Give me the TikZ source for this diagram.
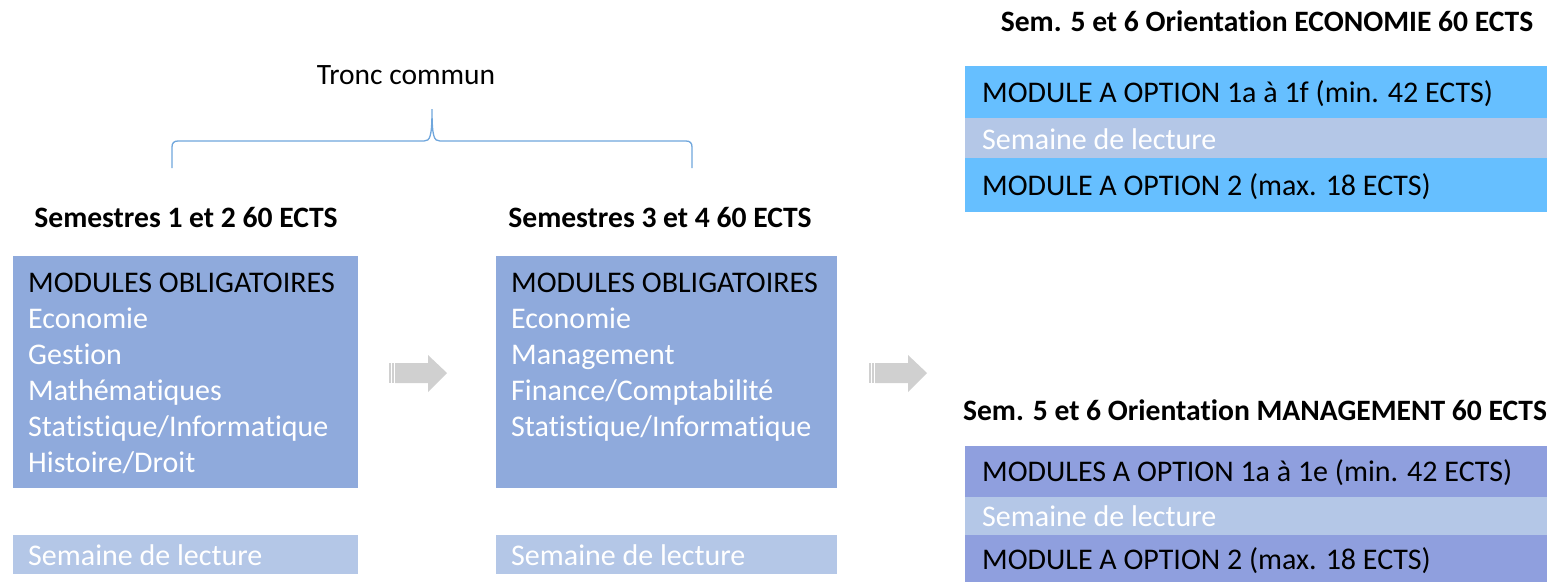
\documentclass[tikz,border=0pt]{standalone}
\usepackage{fontspec}
\setmainfont[Ligatures={NoCommon}]{Carlito}
\definecolor{mainbox}{HTML}{8FAADC}
\definecolor{weekbox}{HTML}{B4C7E7}
\definecolor{ecobox}{HTML}{66BFFF}
\definecolor{mgtbox}{HTML}{8F9FDE}
\definecolor{bracecol}{HTML}{6FA6DC}
\definecolor{arrowcol}{HTML}{D0D0D0}
\tikzset{
  panel/.style={anchor=north west, inner sep=0pt, outer sep=0pt},
  txt/.style={anchor=base west, inner sep=0pt, font=\fontsize{30}{36}\selectfont},
  whitetxt/.style={txt, text=white},
  ttl/.style={anchor=base, inner sep=0pt, font=\fontsize{29.6}{36}\selectfont\bfseries},
  blockarrow/.style={fill=arrowcol, draw=none},
}
\begin{document}
\begin{tikzpicture}[x=1pt,y=-1pt]
\useasboundingbox (0,0) rectangle (1553,582);
% brace and label
\node[anchor=base, inner sep=0pt, font=\fontsize{29.5}{36}\selectfont] (tc) at (406,84) {Tronc commun};
\draw[bracecol, line width=1.3pt] (172,168) -- (172,147) .. controls (172,143) and (174,141) .. (178,141)
  -- (424,141) .. controls (430,141) and (432,137) .. (432,109)
  .. controls (432,137) and (434,141) .. (440,141) -- (686,141)
  .. controls (690,141) and (692,143) .. (692,147) -- (692,168);
% titles
\node[ttl] (t1) at (186,227) {Semestres 1 et 2 60 ECTS};
\node[ttl] (t2) at (660,227) {Semestres 3 et 4 60 ECTS};
\node[ttl] (t3) at (1267,31) {Sem. 5 et 6 Orientation ECONOMIE 60 ECTS};
\node[ttl] (t4) at (1255,420) {Sem. 5 et 6 Orientation MANAGEMENT 60 ECTS};
% semester 1-2
\node[panel, fill=mainbox, minimum width=345pt, minimum height=232pt] (b1) at (13,256) {};
\node[txt] (b1a) at (28,292) {MODULES OBLIGATOIRES};
\node[whitetxt] (b1b) at (28,328) {Economie};
\node[whitetxt] (b1c) at (28,364) {Gestion};
\node[whitetxt] (b1d) at (28,400) {Mathématiques};
\node[whitetxt] (b1e) at (28,436) {Statistique/Informatique};
\node[whitetxt] (b1f) at (28,472) {Histoire/Droit};
\node[panel, fill=weekbox, minimum width=345pt, minimum height=39pt] (w1) at (13,535) {};
\node[whitetxt] (w1t) at (28,565) {Semaine de lecture};
% semester 3-4
\node[panel, fill=mainbox, minimum width=341pt, minimum height=232pt] (b2) at (496,256) {};
\node[txt] (b2a) at (511,292) {MODULES OBLIGATOIRES};
\node[whitetxt] (b2b) at (511,328) {Economie};
\node[whitetxt] (b2c) at (511,364) {Management};
\node[whitetxt] (b2d) at (511,400) {Finance/Comptabilité};
\node[whitetxt] (b2e) at (511,436) {Statistique/Informatique};
\node[panel, fill=weekbox, minimum width=341pt, minimum height=39pt] (w2) at (496,535) {};
\node[whitetxt] (w2t) at (511,565) {Semaine de lecture};
% block arrows
\foreach \ax/\nm in {389/ar1, 869/ar2}{
  \fill[blockarrow] (\ax,363) rectangle ++(2,20);
  \fill[blockarrow] (\ax+3,363) rectangle ++(2,20);
  \fill[blockarrow] (\ax+6,363) -- (\ax+39,363) -- (\ax+39,355) -- (\ax+58,373)
     -- (\ax+39,392) -- (\ax+39,383) -- (\ax+6,383) -- cycle;
}
% economie
\node[panel, fill=ecobox, minimum width=582pt, minimum height=52pt] (e1) at (965,66) {};
\node[panel, fill=weekbox, minimum width=582pt, minimum height=40pt] (e2) at (965,118) {};
\node[panel, fill=ecobox, minimum width=582pt, minimum height=54pt] (e3) at (965,158) {};
\node[txt] (e1t) at (982,102) {MODULE A OPTION 1a à 1f (min. 42 ECTS)};
\node[whitetxt] (e2t) at (982,149) {Semaine de lecture};
\node[txt] (e3t) at (982,195) {MODULE A OPTION 2 (max. 18 ECTS)};
% management
\node[panel, fill=mgtbox, minimum width=582pt, minimum height=51pt] (m1) at (965,446) {};
\node[panel, fill=weekbox, minimum width=582pt, minimum height=38pt] (m2) at (965,497) {};
\node[panel, fill=mgtbox, minimum width=582pt, minimum height=47pt] (m3) at (965,535) {};
\node[txt] (m1t) at (982,481) {MODULES A OPTION 1a à 1e (min. 42 ECTS)};
\node[whitetxt] (m2t) at (982,526) {Semaine de lecture};
\node[txt] (m3t) at (982,569) {MODULE A OPTION 2 (max. 18 ECTS)};
\end{tikzpicture}
\end{document}
